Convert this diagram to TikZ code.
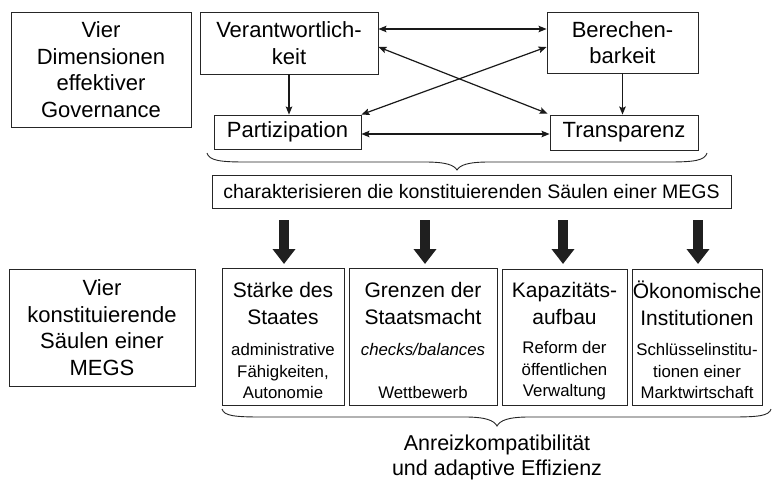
\documentclass[tikz,border=0pt]{standalone}
\usepackage{fontspec}
\setmainfont{Liberation Sans}
\usetikzlibrary{arrows.meta,calc}
\begin{document}
\begin{tikzpicture}[x=1pt,y=-1pt,
  box/.style={draw=black!85,line width=0.9pt,inner sep=0pt,align=center},
  big/.style={font=\fontsize{22}{26.5}\selectfont},
  ttl/.style={font=\fontsize{21}{27}\selectfont},
  med/.style={font=\fontsize{19.5}{24}\selectfont},
  sml/.style={font=\fontsize{16.8}{21.5}\selectfont},
  lnk/.style={line width=1.2pt,draw=black!90,{Stealth[length=8pt,width=6.5pt,inset=1.5pt]}-{Stealth[length=8pt,width=6.5pt,inset=1.5pt]}},
  one/.style={line width=1.2pt,draw=black!90,-{Stealth[length=8pt,width=6.5pt,inset=1.5pt]}},
  fat/.style={line width=10pt,draw=black!88,-{Triangle[length=15pt 0 0,width=22pt 0 0]}},
  brc/.style={draw=black!85,line width=0.9pt}]
\useasboundingbox (0,0) rectangle (774,485);
\fill[white] (0,0) rectangle (774,485);
% top left label
\node[box,big,minimum width=180,minimum height=115] (l1) at (101,69.5) {Vier\\Dimensionen\\effektiver\\Governance};
% four dimensions
\node[box,big,minimum width=178,minimum height=62] (v) at (289,43) {Verantwortlich-\\keit};
\node[box,big,minimum width=151,minimum height=61] (b) at (622.5,42.5) {Berechen-\\barkeit};
\node[box,big,minimum width=147,minimum height=34] (p) at (287.5,132) {Partizipation};
\node[box,big,minimum width=148,minimum height=35] (t) at (624,132.5) {Transparenz};
\draw[lnk] ([yshift=14]v.east) -- ([yshift=14]v.east -| b.west);
\draw[lnk] ([yshift=-2]p.east) -- ([yshift=-2]p.east -| t.west);
\draw[one] (v.south) -- (v.south |- p.north);
\draw[one] (b.south) -- (b.south |- t.north);
\draw[lnk] ([yshift=-4]v.east) -- ([xshift=-2,yshift=1]t.north west);
\draw[lnk] (p.north east) -- ([yshift=-4.5]b.west);
% brace 1
\coordinate (br1l) at (207,153);
\coordinate (br1r) at (707,153);
\coordinate (br1t) at (457,170);
\draw[brc] (br1l) .. controls (209,160.5) and (220,162) .. (245,162) -- (425,162)
  .. controls (446,162) and (454,165) .. (br1t)
  .. controls (460,165) and (468,162) .. (489,162) -- (669,162)
  .. controls (694,162) and (705,160.5) .. (br1r);
\node[box,med,minimum width=519,minimum height=33] (c) at (471.5,191.5) {charakterisieren die konstituierenden Säulen einer MEGS};
% bottom left label
\node[box,big,minimum width=186,minimum height=117] (l2) at (102,327.5) {Vier\\konstituierende\\Säulen einer\\MEGS};
% pillars
\node[box,minimum width=122,minimum height=137] (q1) at (283,336.5) {};
\node[box,minimum width=148,minimum height=137] (q2) at (423,336.5) {};
\node[box,minimum width=125,minimum height=136] (q3) at (564.5,337) {};
\node[box,minimum width=130,minimum height=136] (q4) at (697,337) {};
\node[ttl,align=center,inner sep=0pt] (q1t) at (283,303) {Stärke des\\Staates};
\node[ttl,align=center,inner sep=0pt] (q2t) at (423,303) {Grenzen der\\Staatsmacht};
\node[ttl,align=center,inner sep=0pt] (q3t) at (564.5,303) {Kapazitäts-\\aufbau};
\node[ttl,align=center,inner sep=0pt] (q4t) at (697,303) {Ökonomische\\Institutionen};
\node[sml,align=center,inner sep=0pt] (q1d) at (283,371) {administrative\\Fähigkeiten,\\Autonomie};
\node[sml,align=center,inner sep=0pt] (q2d) at (423,371) {\itshape checks/balances\\ \strut\\Wettbewerb};
\node[sml,align=center,inner sep=0pt] (q3d) at (564.5,371) {Reform der\\öffentlichen\\Verwaltung};
\node[sml,align=center,inner sep=0pt] (q4d) at (697,371) {Schlüsselinstitu-\\tionen einer\\Marktwirtschaft};
% fat arrows
\foreach \q/\xx in {q1/284,q2/425,q3/563,q4/698}{
  \draw[fat] (\xx,220) -- (\xx,264);
}
% brace 2
\coordinate (br2l) at (222,409);
\coordinate (br2r) at (771,409);
\coordinate (br2t) at (497,426);
\draw[brc] (br2l) .. controls (224,416) and (235,417) .. (262,417) -- (465,417)
  .. controls (486,417) and (494,420.5) .. (br2t)
  .. controls (500,420.5) and (508,417) .. (529,417) -- (731,417)
  .. controls (758,417) and (769,416) .. (br2r);
\node[align=center,inner sep=0pt,font=\fontsize{21.5}{25}\selectfont] (res) at (497,457) {Anreizkompatibilität\\und adaptive Effizienz};
\end{tikzpicture}
\end{document}
